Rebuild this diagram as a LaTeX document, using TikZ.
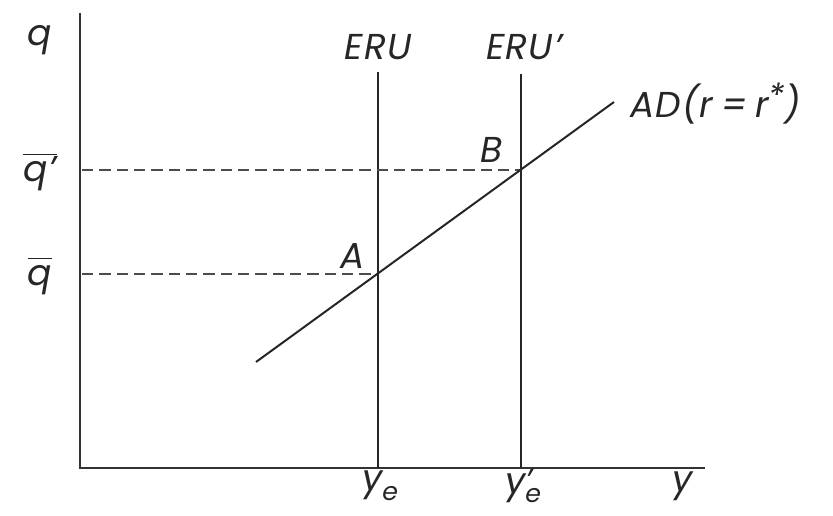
\documentclass[tikz,border=0pt]{standalone}
\usepackage{fontspec}
\setmainfont{Poppins}[LetterSpace=3]
\begin{document}
\begin{tikzpicture}[x=0.75pt,y=-0.75pt,
  lbl/.style={font=\fontsize{27}{30}\selectfont\itshape, text=black!85, inner sep=0pt},
  axis/.style={line width=1.8pt, black!80},
  curve/.style={line width=1.5pt, black!85},
  guide/.style={line width=1.7pt, black!70, dash pattern=on 8.5pt off 4.5pt}]
\useasboundingbox (0,0) rectangle (833,516);
% coordinates
\coordinate (O) at (80,468);
\coordinate (Ytop) at (80,13);
\coordinate (Xend) at (705,468);
\coordinate (E1top) at (378,72);
\coordinate (E1bot) at (378,468);
\coordinate (E2top) at (521,74);
\coordinate (E2bot) at (521,468);
\coordinate (ADs) at (256,362);
\coordinate (ADe) at (614,102);
\coordinate (A) at (378,274);
\coordinate (B) at (521,170);
\coordinate (QA) at (82,274);
\coordinate (QB) at (82,170);
% axes
\draw[axis] (Ytop) -- (O) -- (Xend);
% ERU lines
\draw[curve] (E1top) -- (E1bot);
\draw[curve] (E2top) -- (E2bot);
% dashed guides
\draw[guide] (QA) -- (A);
\draw[guide] (QB) -- (B);
% AD line
\draw[curve] (ADs) -- (ADe);
% labels
\node[lbl] (lq) at (40,40) {q};
\node[lbl] (lqb) at (40,172) {$\overline{\hbox{\itshape q’}}$};
\node[lbl] (lq0) at (40,276) {$\overline{\hbox{\itshape q\vphantom{’}}}$};
\node[lbl] (lERU) at (378,47) {ERU};
\node[lbl] (lERUp) at (524,47) {ERU’};
\node[lbl, anchor=west] (lAD) at (630,104) {AD(r\hspace{6pt}=\hspace{6pt}r\raisebox{0.5ex}{\fontsize{25}{26}\selectfont *})};
\node[lbl] (lA) at (353,256) {A};
\node[lbl] (lB) at (492,150) {B};
\node[lbl] (lye) at (380,486) {y\raisebox{-0.5ex}{\fontsize{19}{20}\selectfont e}};
\node[lbl] (lyep) at (523,486) {y\rlap{\raisebox{0.1ex}{\fontsize{24}{26}\selectfont ’}}\raisebox{-0.5ex}{\fontsize{19}{20}\selectfont e}};
\node[lbl] (ly) at (683,486) {y};
\end{tikzpicture}
\end{document}
